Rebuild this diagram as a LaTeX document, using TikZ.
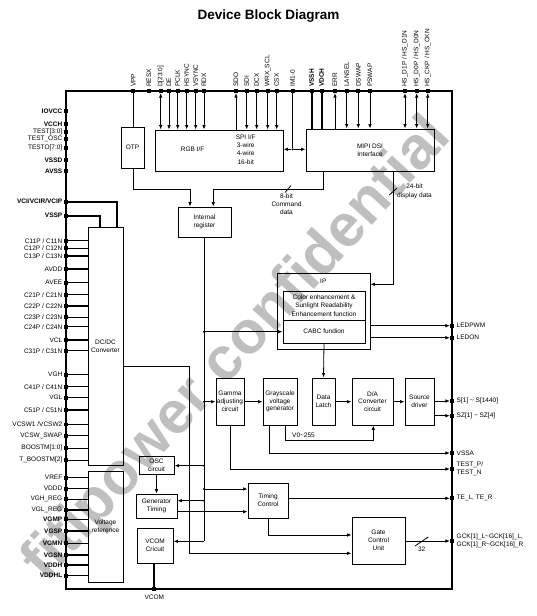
\documentclass[tikz,border=0pt]{standalone}
\usepackage{fontspec}
\setmainfont{Liberation Sans}
\usetikzlibrary{arrows.meta}
\newcommand\LP[3]{\node[pinsq] (#1) at (66,#2) {}; \node[lpl] (#1l) at (62.5,#2) {#3};}
\newcommand\RP[3]{\node[pinsq] (#1) at (452,#2) {}; \node[rpl] (#1l) at (456.5,#2) {#3};}
\newcommand\TP[3]{\node[pinsq] (#1) at (#2,91) {}; \node[tpl] (#1l) at (#2,87) {#3};}
\begin{document}
\begin{tikzpicture}[x=1pt,y=-1pt,
  >={Latex[length=4.5pt,width=3.6pt]},
  every node/.style={font=\fontsize{6.5}{7.8}\selectfont},
  ln/.style={line width=0.8pt},
  thk/.style={line width=1.7pt},
  pl/.style={line width=1.1pt},
  chipl/.style={line width=1.1pt},
  blk/.style={draw,line width=0.9pt,align=center,inner sep=0pt},
  pinsq/.style={fill=black,inner sep=0pt,minimum size=3.8pt},
  jdot/.style={circle,fill=black,inner sep=0pt,minimum size=2.4pt},
  lpl/.style={anchor=east,inner sep=0pt},
  rpl/.style={anchor=west,inner sep=0pt,align=left},
  tpl/.style={rotate=90,anchor=west,inner sep=0pt},
  txt/.style={inner sep=0pt,align=center}
]
\useasboundingbox (0,0) rectangle (537,616);
% watermark
\node[rotate=47.6,text=black!25,font=\fontsize{60}{60}\bfseries,inner sep=0pt] (wmark) at (238,350) {fitipower confidential};
% title
\node[font=\fontsize{13.5}{14}\bfseries] (ttl) at (268.5,16) {Device Block Diagram};
% chip outline
\draw[chipl] (66,91) rectangle (452,589);

% blocks
\node[blk,minimum width=23pt,minimum height=41pt] (otp) at (132.5,147.5) {OTP};
\node[blk,minimum width=128pt,minimum height=41pt] (rgb) at (219,150.5) {};
\node[txt] (rgbt) at (192.7,149) {RGB I/F};
\node[txt,font=\fontsize{6.5}{8.3}\selectfont] (spit) at (245.7,149.5) {SPI I/F\\3-wire\\4-wire\\16-bit};
\node[blk,minimum width=128pt,minimum height=42pt] (mipi) at (370,150) {MIPI DSI\\Interface};
\node[blk,minimum width=53pt,minimum height=30pt] (ireg) at (204.5,222) {Internal\\register};
\node[blk,minimum width=35pt,minimum height=238pt] (dcdc) at (105.5,346) {DC/DC\\Converter};
\node[blk,minimum width=35pt,minimum height=111pt] (vref) at (105.5,526.5) {Voltage\\reference};
\node[blk,minimum width=93pt,minimum height=76pt] (ip) at (323.5,311) {};
\node[txt] (ipt) at (323.3,281) {IP};
\node[blk,minimum width=82pt,minimum height=29pt,font=\fontsize{6.5}{8.2}\selectfont] (color) at (324,305.5) {Color enhancement \&\\Sunlight Readability\\Enhancement function};
\node[blk,minimum width=82pt,minimum height=23pt] (cabc) at (324,331.5) {CABC fundion};
\node[blk,minimum width=28pt,minimum height=47pt] (gamma) at (230,401.5) {Gamma\\adjusting\\circuit};
\node[blk,minimum width=34pt,minimum height=47pt] (gray) at (280,401.5) {Grayscale\\voltage\\generator};
\node[blk,minimum width=23pt,minimum height=47pt] (latch) at (323.5,401.5) {Data\\Latch};
\node[blk,minimum width=41pt,minimum height=47pt] (dac) at (372.5,401.5) {D/A\\Converter\\circuit};
\node[blk,minimum width=29pt,minimum height=47pt] (src) at (419.5,401.5) {Source\\driver};
\node[blk,minimum width=35pt,minimum height=18pt] (osc) at (156.5,465) {OSC\\circuit};
\node[blk,minimum width=41pt,minimum height=24pt] (gen) at (156.5,506) {Generator\\Timing};
\node[blk,minimum width=40pt,minimum height=35pt] (timing) at (268,500.5) {Timing\\Control};
\node[blk,minimum width=53pt,minimum height=47pt] (gate) at (378.5,540.5) {Gate\\Control\\Unit};
\node[blk,minimum width=36pt,minimum height=35pt] (vcom) at (155,545.5) {VCOM\\Cricuit};

% left pins
\LP{pIOVCC}{111}{\bfseries IOVCC}
\LP{pVCCH}{124}{\bfseries VCCH}
\LP{pTESTa}{132.3}{TEST[3:0]}
\LP{pTOSC}{139}{TEST\_OSC}
\LP{pTESTO}{147.7}{TESTO[7:0]}
\LP{pVSSD}{160}{\bfseries VSSD}
\LP{pAVSS}{171}{\bfseries AVSS}
\LP{pVCI}{201.7}{\bfseries VCI/VCIR/VCIP}
\LP{pVSSP}{215.7}{\bfseries VSSP}
\LP{pCa}{240.7}{C11P / C11N}
\LP{pCb}{248.3}{C12P / C12N}
\LP{pCc}{256}{C13P / C13N}
\LP{pAVDD}{269}{AVDD}
\LP{pAVEE}{282.7}{AVEE}
\LP{pCd}{294.7}{C21P / C21N}
\LP{pCe}{306}{C22P / C22N}
\LP{pCf}{317.3}{C23P / C23N}
\LP{pCg}{326.7}{C24P / C24N}
\LP{pVCL}{340}{VCL}
\LP{pCh}{350.7}{C31P / C31N}
\LP{pVGH}{374.7}{VGH}
\LP{pCi}{386.7}{C41P / C41N}
\LP{pVGL}{397.7}{VGL}
\LP{pCj}{410}{C51P / C51N}
\LP{pVCSW}{424.5}{VCSW1 /VCSW2}
\LP{pVSWAP}{435.7}{VCSW\_SWAP}
\LP{pBOOST}{448.3}{BOOSTM[1:0]}
\LP{pTBOOST}{460.3}{T\_BOOSTM[2]}
\LP{pVREF}{477.7}{VREF}
\LP{pVDDD}{488.7}{VDDD}
\LP{pVGHR}{499.3}{VGH\_REG}
\LP{pVGLR}{510}{VGL\_REG}
\LP{pVGMP}{519.3}{\bfseries VGMP}
\LP{pVGSP}{531}{\bfseries VGSP}
\LP{pVGMN}{543.3}{\bfseries VGMN}
\LP{pVGSN}{555}{\bfseries VGSN}
\LP{pVDDH}{565}{\bfseries VDDH}
\LP{pVDDHL}{575.7}{\bfseries VDDHL}

\foreach \p in {pCa,pCb,pCc,pAVDD,pAVEE,pCd,pCe,pCf,pCg,pVCL,pCh,pVGH,pCi,pVGL,pCj,pVCSW,pVSWAP,pBOOST,pTBOOST}
  \draw[pl] (\p) -- (\p -| dcdc.west);
\foreach \p in {pVREF,pVDDD,pVGHR,pVGLR,pVGMP,pVGSP,pVGMN,pVGSN,pVDDH,pVDDHL}
  \draw[pl] (\p) -- (\p -| vref.west);
\draw[thk] (pVCI) -| (dcdc.north -| 117,0);
\draw[thk] (pVSSP) -| (dcdc.north -| 100,0);

% top pins
\TP{tVPP}{133.3}{VPP}
\TP{tRESX}{149}{RESX}
\TP{tD}{160.7}{D[23:0]}
\TP{tDE}{169}{DE}
\TP{tPCLK}{177.7}{PCLK}
\TP{tHS}{186.7}{HSYNC}
\TP{tVS}{195.7}{VSYNC}
\TP{tRDX}{204}{RDX}
\TP{tSDO}{236}{SDO}
\TP{tSDI}{246.7}{SDI}
\TP{tDCX}{256.7}{DCX}
\TP{tWRX}{267.7}{WRX\_SCL}
\TP{tCSX}{276.7}{CSX}
\TP{tIM}{292.7}{IM1-0}
\TP{tVSSH}{311.7}{\bfseries VSSH}
\TP{tVDCH}{321.7}{\bfseries VDCH}
\TP{tERR}{335}{ERR}
\TP{tLAN}{346.7}{LANSEL}
\TP{tDSW}{358.3}{DSWAP}
\TP{tPSW}{370}{PSWAP}
\TP{tHD1}{405}{HS\_D1P / HS\_D1N}
\TP{tHD0}{416.7}{HS\_D0P / HS\_D0N}
\TP{tHCK}{427.7}{HS\_CKP / HS\_CKN}

\draw[ln] (tVPP) -- (tVPP |- otp.north);
\draw[ln,<->] (tD) -- (tD |- rgb.north);
\foreach \p in {tDE,tPCLK,tHS,tVS,tRDX,tSDI,tDCX,tWRX,tCSX}
  \draw[ln,->] (\p) -- (\p |- rgb.north);
\draw[ln,->] (tSDO |- rgb.north) -- (tSDO);
\node[jdot] (imj) at (292.7,149.3) {};
\draw[ln] (tIM) -- (imj);
\draw[ln,->] (imj) -- (rgb.east |- imj);
\draw[ln,->] (imj) -- (mipi.west |- imj);
\draw[thk] (tVSSH) -- (tVSSH |- mipi.north);
\draw[thk] (tVDCH) -- (tVDCH |- mipi.north);
\draw[ln,->] (tERR |- mipi.north) -- (tERR);
\foreach \p in {tLAN,tDSW,tPSW}
  \draw[ln,->] (\p) -- (\p |- mipi.north);
\foreach \p in {tHD1,tHD0,tHCK}
  \draw[ln,<->] (\p) -- (\p |- mipi.north);

% right pins
\RP{rLEDPWM}{325.7}{LEDPWM}
\RP{rLEDON}{337.7}{LEDON}
\RP{rS}{401}{S[1] \textasciitilde\ S[1440]}
\RP{rSZ}{415.7}{SZ[1] \textasciitilde\ SZ[4]}
\RP{rVSSA}{453}{VSSA}
\RP{rTEST}{469}{TEST\_P/\\TEST\_N}
\RP{rTE}{498.3}{TE\_L, TE\_R}
\RP{rGCK}{541}{GCK[1]\_L\textasciitilde GCK[16]\_L,\\GCK[1]\_R\textasciitilde GCK[16]\_R}

% bottom pin
\node[pinsq] (bVCOM) at (154.3,589) {};
\node[txt] (bVCOMl) at (154.3,597.5) {VCOM};
\draw[thk] (vcom.south -| bVCOM) -- (bVCOM);

% OTP / MIPI -> internal register
\coordinate (c1) at (190,189);
\draw[ln,->] (otp.south -| tVPP) |- (c1) -- (c1 |- ireg.north);
\coordinate (c2) at (213.3,189);
\draw[ln,->] (mipi.south -| 323.3,0) |- (c2) -- (c2 |- ireg.north);
\draw[ln] (285,192.5) -- (291,185.5);
\node[txt,font=\fontsize{6.5}{8.1}\selectfont] (cmdl) at (286.5,204.5) {8-bit\\Command\\data};

% MIPI -> IP (24-bit)
\coordinate (c3) at (393.3,284.3);
\draw[ln,->] (mipi.south -| c3) -- (c3) -- (ip.east |- c3);
\draw[ln] (389.3,195) -- (396.7,188.3);
\node[txt,font=\fontsize{6.5}{8.8}\selectfont] (displ) at (414.5,191) {24-bit\\display data};

% internal register bus
\node[jdot] (j1) at (204,331.7) {};
\node[jdot] (j2) at (204,401.7) {};
\node[jdot] (j3) at (204,465.7) {};
\node[jdot] (j4) at (204,489) {};
\node[jdot] (j5) at (204,500.7) {};
\coordinate (c4) at (204,541.3);
\draw[ln] (ireg.south -| c4) -- (c4);
\draw[ln,->] (j1) -- (cabc.west |- j1);
\draw[ln,->] (j2) -- (gamma.west |- j2);
\draw[ln,->] (j3) -- (osc.east |- j3);
\draw[ln,->] (j4) -- (timing.west |- j4);
\draw[ln,->] (j5) -- (gen.east |- j5);
\draw[ln,->] (c4) -- (vcom.east |- c4);

% DC/DC -> gate control
\coordinate (c5) at (189.3,553.3);
\draw[ln,->] (dcdc.east |- 0,366) -| (c5) -- (gate.west |- c5);

% IP outputs
\draw[ln,->] (ip.east |- rLEDPWM) -- (rLEDPWM);
\draw[ln,->] (ip.east |- rLEDON) -- (rLEDON);
\draw[ln,->] (cabc.south) -- (latch.north);

% data path
\draw[ln,->] (gamma.east |- 0,401.7) -- (gray.west |- 0,401.7);
\draw[ln,->] (latch.east |- 0,401.7) -- (dac.west |- 0,401.7);
\draw[ln,->] (dac.east |- 0,401.7) -- (src.west |- 0,401.7);
\draw[ln,->] (src.east |- rS) -- (rS);
\draw[ln,->] (src.east |- rSZ) -- (rSZ);
\coordinate (c6) at (373.3,440);
\draw[ln,->] (gray.south -| 285,0) |- (c6) -- (c6 |- dac.south);
\node[txt] (v0l) at (303.5,435.5) {V0\textasciitilde255};
\draw[ln,->] (gray.south -| 269.3,0) |- (rVSSA);
\draw[ln,->] (gamma.south) |- (rTEST);

% timing
\draw[ln,->] (osc.south) -- (gen.north);
\draw[ln,->] (gen.east |- 0,511.7) -- (timing.west |- 0,511.7);
\draw[ln,->] (timing.east |- rTE) -- (rTE);
\draw[ln,->] (timing.south) |- (gate.west |- 0,535);
\draw[ln,->] (gate.east |- rGCK) -- (rGCK);
\draw[ln] (415,546) -- (428.3,537);
\node[txt] (l32) at (421.7,549.5) {32};
\end{tikzpicture}
\end{document}
